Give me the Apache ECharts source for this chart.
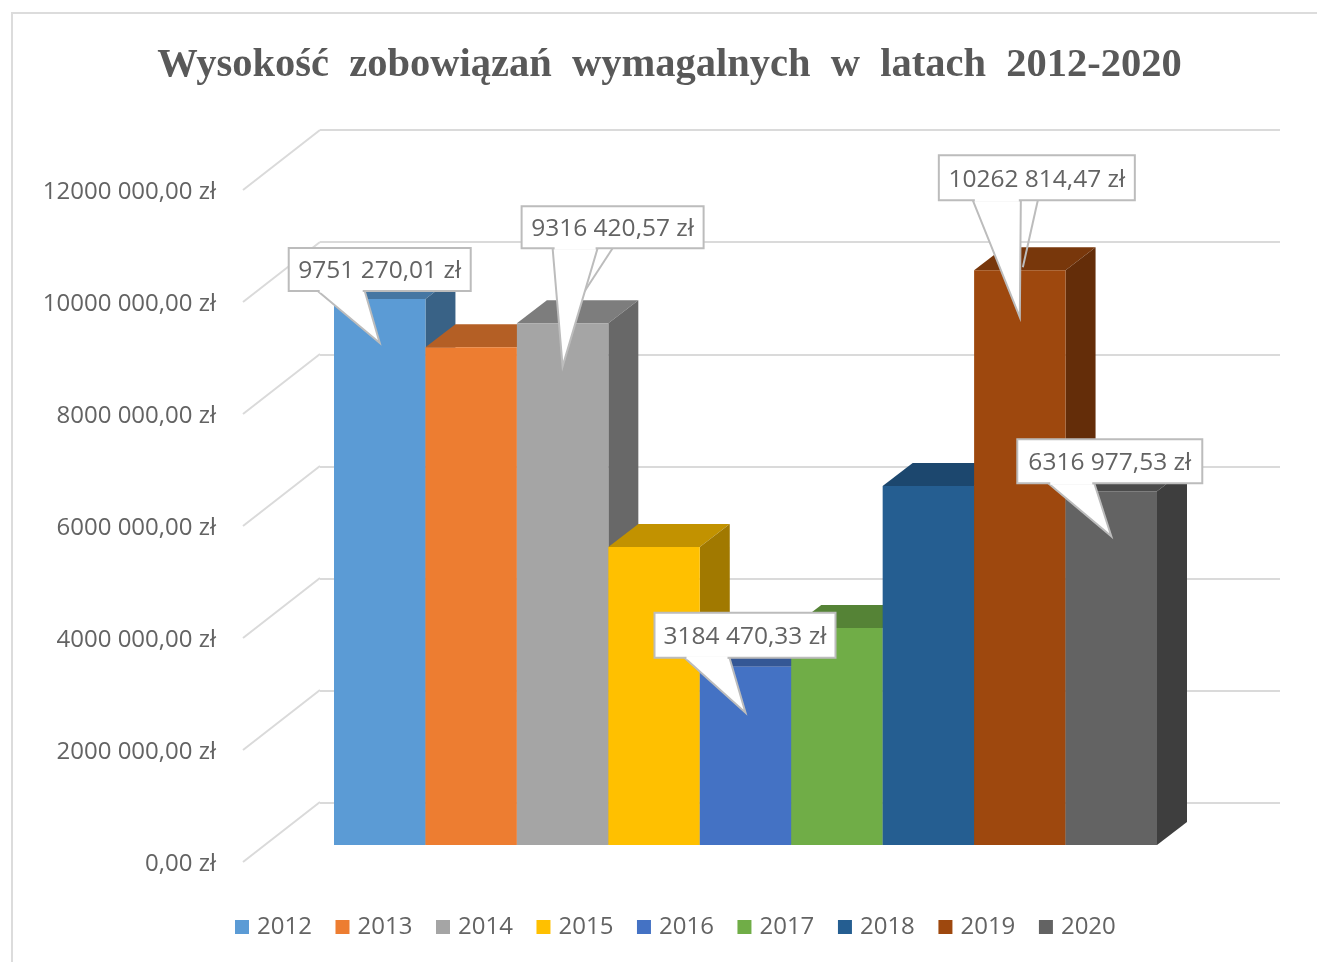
<!DOCTYPE html>
<html>
<head>
<meta charset="utf-8">
<title>Wysokość zobowiązań wymagalnych</title>
<script src="https://cdn.jsdelivr.net/npm/echarts@6/dist/echarts.min.js"></script>
<style>
  html, body { margin: 0; padding: 0; background: #fff; }
  .frame { position: absolute; left: 11px; top: 12px; right: 0; bottom: 0; border-left: 2px solid #dcdcdc; border-top: 2px solid #dcdcdc; }
  #chart { position: absolute; left: 0; top: 0; width: 1317px; height: 962px; filter: blur(0.7px); }
</style>
</head>
<body>
<div class="frame"></div>
<div id="chart"></div>
<script>
const years = ['2012', '2013', '2014', '2015', '2016', '2017', '2018', '2019', '2020']
// 2013, 2015, 2017, 2018 have no label in the picture
const values = [9751270.01, 8890000, 9316420.57, 5320000, 3184470.33, 3875000, 6410000, 10262814.47, 6316977.53]
const barColors = ['#5B9BD5', '#ED7D31', '#A5A5A5', '#FFC000', '#4472C4', '#70AD47', '#255E91', '#9E480E', '#636363']

const yTicks = [0, 2000000, 4000000, 6000000, 8000000, 10000000, 12000000]
const yTickLabels = ['0,00 zł', '2000 000,00 zł', '4000 000,00 zł', '6000 000,00 zł', '8000 000,00 zł', '10000 000,00 zł', '12000 000,00 zł']

const calloutYears = ['2012', '2014', '2016', '2019', '2020']
const calloutValues = [9751270.01, 9316420.57, 3184470.33, 10262814.47, 6316977.53]
const calloutLabels = ['9751 270,01 zł', '9316 420,57 zł', '3184 470,33 zł', '10262 814,47 zł', '6316 977,53 zł']

// callout shape relative to the bar top: box l/r/t/b, pointer base, pointer tip, stray leader
const calloutShapes = [
  { l: -91, r: 91, t: -51, b: -8, baseL: -62, baseR: -15, tip: 44 },
  { l: -41, r: 141, t: -117, b: -75, baseL: -10, baseR: 35, tip: 43, stray: [50, -75, 22, -32] },
  { l: -91, r: 90, t: -54, b: -9, baseL: -61, baseR: -16, tip: 46 },
  { l: -81, r: 115, t: -115, b: -70, baseL: -47, baseR: 1, tip: 47, stray: [18, -70, 3, -3] },
  { l: -94, r: 91, t: -52, b: -8, baseL: -63, baseR: -17, tip: 45 }
]

const depthBar = [30, -23]
const depthWall = [77, -60]
const gridColor = '#dadada'
const textColor = '#636363'
const sansFont = '"Open Sans", sans-serif'

function shade (hex, f) {
  const n = parseInt(hex.slice(1), 16)
  const r = Math.round((n >> 16) * f)
  const g = Math.round(((n >> 8) & 255) * f)
  const b = Math.round((n & 255) * f)
  return 'rgb(' + r + ',' + g + ',' + b + ')'
}

function renderBar (params, api) {
  const top = api.coord([api.value(0), api.value(1)])
  const base = api.coord([api.value(0), 0])
  const w = api.size([1, 0])[0]
  const color = api.visual('color')
  const x0 = top[0] - w / 2
  const x1 = top[0] + w / 2
  const dx = depthBar[0]
  const dy = depthBar[1]
  return {
    type: 'group',
    children: [
      {
        type: 'polygon',
        shape: { points: [[x0, top[1]], [x0 + dx, top[1] + dy], [x1 + dx, top[1] + dy], [x1, top[1]]] },
        style: { fill: shade(color, 0.76) }
      },
      {
        type: 'polygon',
        shape: { points: [[x1, top[1]], [x1 + dx, top[1] + dy], [x1 + dx, base[1] + dy], [x1, base[1]]] },
        style: { fill: shade(color, 0.63) }
      },
      {
        type: 'rect',
        shape: { x: x0, y: top[1], width: w, height: base[1] - top[1] },
        style: { fill: color }
      }
    ]
  }
}

function renderDiagonal (params, api) {
  const p = api.coord([0, api.value(1)])
  return {
    type: 'line',
    shape: { x1: p[0], y1: p[1], x2: p[0] + depthWall[0], y2: p[1] + depthWall[1] },
    style: { stroke: gridColor, lineWidth: 2 }
  }
}

function renderCallout (params, api) {
  const p = api.coord([api.value(0), api.value(1)])
  const s = calloutShapes[params.dataIndex]
  const border = '#bcbcbc'
  const children = []
  if (s.stray) {
    children.push({
      type: 'line',
      shape: { x1: p[0] + s.stray[0], y1: p[1] + s.stray[1], x2: p[0] + s.stray[2], y2: p[1] + s.stray[3] },
      style: { stroke: border, lineWidth: 2 }
    })
  }
  children.push({
    type: 'polygon',
    shape: { points: [[p[0] + s.baseL, p[1] + s.b], [p[0], p[1] + s.tip], [p[0] + s.baseR, p[1] + s.b]] },
    style: { fill: '#fff', stroke: border, lineWidth: 2 }
  })
  children.push({
    type: 'rect',
    shape: { x: p[0] + s.l, y: p[1] + s.t, width: s.r - s.l, height: s.b - s.t },
    style: { fill: '#fff', stroke: border, lineWidth: 2 }
  })
  children.push({
    type: 'line',
    shape: { x1: p[0] + s.baseL + 2, y1: p[1] + s.b, x2: p[0] + s.baseR - 2, y2: p[1] + s.b },
    style: { stroke: '#fff', lineWidth: 3 }
  })
  children.push({
    type: 'text',
    style: {
      text: calloutLabels[params.dataIndex],
      x: p[0] + (s.l + s.r) / 2,
      y: p[1] + (s.t + s.b) / 2 + 2,
      align: 'center',
      verticalAlign: 'middle',
      fill: textColor,
      font: '24.5px ' + sansFont
    }
  })
  return { type: 'group', children: children }
}

const hiddenValueX = { type: 'value', min: 0, max: 1, show: false }

const barSeries = years.map((y, i) => ({
  name: y,
  type: 'custom',
  xAxisIndex: 2,
  yAxisIndex: 2,
  z: 3,
  itemStyle: { color: barColors[i] },
  renderItem: renderBar,
  data: [[y, values[i]]]
}))

const option = {
  animation: false,
  backgroundColor: 'transparent',
  title: {
    text: 'Wysokość  zobowiązań  wymagalnych  w  latach  2012-2020',
    left: 664.5,
    top: 40,
    textAlign: 'center',
    textStyle: {
      fontFamily: '"Liberation Serif", serif',
      fontWeight: 'bold',
      fontSize: 40.5,
      color: '#595959'
    }
  },
  legend: {
    data: years,
    left: 230,
    top: 910,
    icon: 'rect',
    itemWidth: 14,
    itemHeight: 14,
    itemGap: 23.6,
    textStyle: {
      fontFamily: sansFont,
      fontSize: 24,
      color: textColor,
      padding: [0, 0, 0, 3]
    }
  },
  grid: [
    // front plane, carries the labels
    { left: 243, top: 190, width: 960, height: 672 },
    // back wall
    { left: 320, top: 130, width: 960, height: 673 },
    // plane the bars stand on
    { left: 334, top: 173, width: 823, height: 672 }
  ],
  xAxis: [
    Object.assign({ gridIndex: 0 }, hiddenValueX),
    Object.assign({ gridIndex: 1 }, hiddenValueX),
    { type: 'category', gridIndex: 2, data: years, show: false }
  ],
  yAxis: [
    {
      type: 'value',
      gridIndex: 0,
      min: 0,
      max: 12000000,
      interval: 2000000,
      axisLine: { show: false },
      axisTick: { show: false },
      splitLine: { show: false },
      axisLabel: {
        margin: 27,
        verticalAlign: 'top',
        lineHeight: 4,
        fontFamily: sansFont,
        fontSize: 24,
        color: textColor,
        formatter: v => yTickLabels[yTicks.indexOf(v)]
      }
    },
    {
      type: 'value',
      gridIndex: 1,
      min: 0,
      max: 12000000,
      interval: 2000000,
      axisLine: { show: false },
      axisTick: { show: false },
      axisLabel: { show: false },
      splitLine: { lineStyle: { color: gridColor, width: 2 } }
    },
    { type: 'value', gridIndex: 2, min: 0, max: 12000000, show: false, splitLine: { show: false } }
  ],
  series: [
    {
      name: 'wall',
      type: 'custom',
      xAxisIndex: 0,
      yAxisIndex: 0,
      z: 1,
      silent: true,
      renderItem: renderDiagonal,
      data: yTicks.map(t => [0, t])
    }
  ].concat(barSeries, [
    {
      name: 'callouts',
      type: 'custom',
      xAxisIndex: 2,
      yAxisIndex: 2,
      z: 5,
      silent: true,
      renderItem: renderCallout,
      data: calloutYears.map((y, i) => [y, calloutValues[i]])
    }
  ])
}

const myChart = echarts.init(document.getElementById('chart'))
myChart.setOption(option)
</script>
</body>
</html>
